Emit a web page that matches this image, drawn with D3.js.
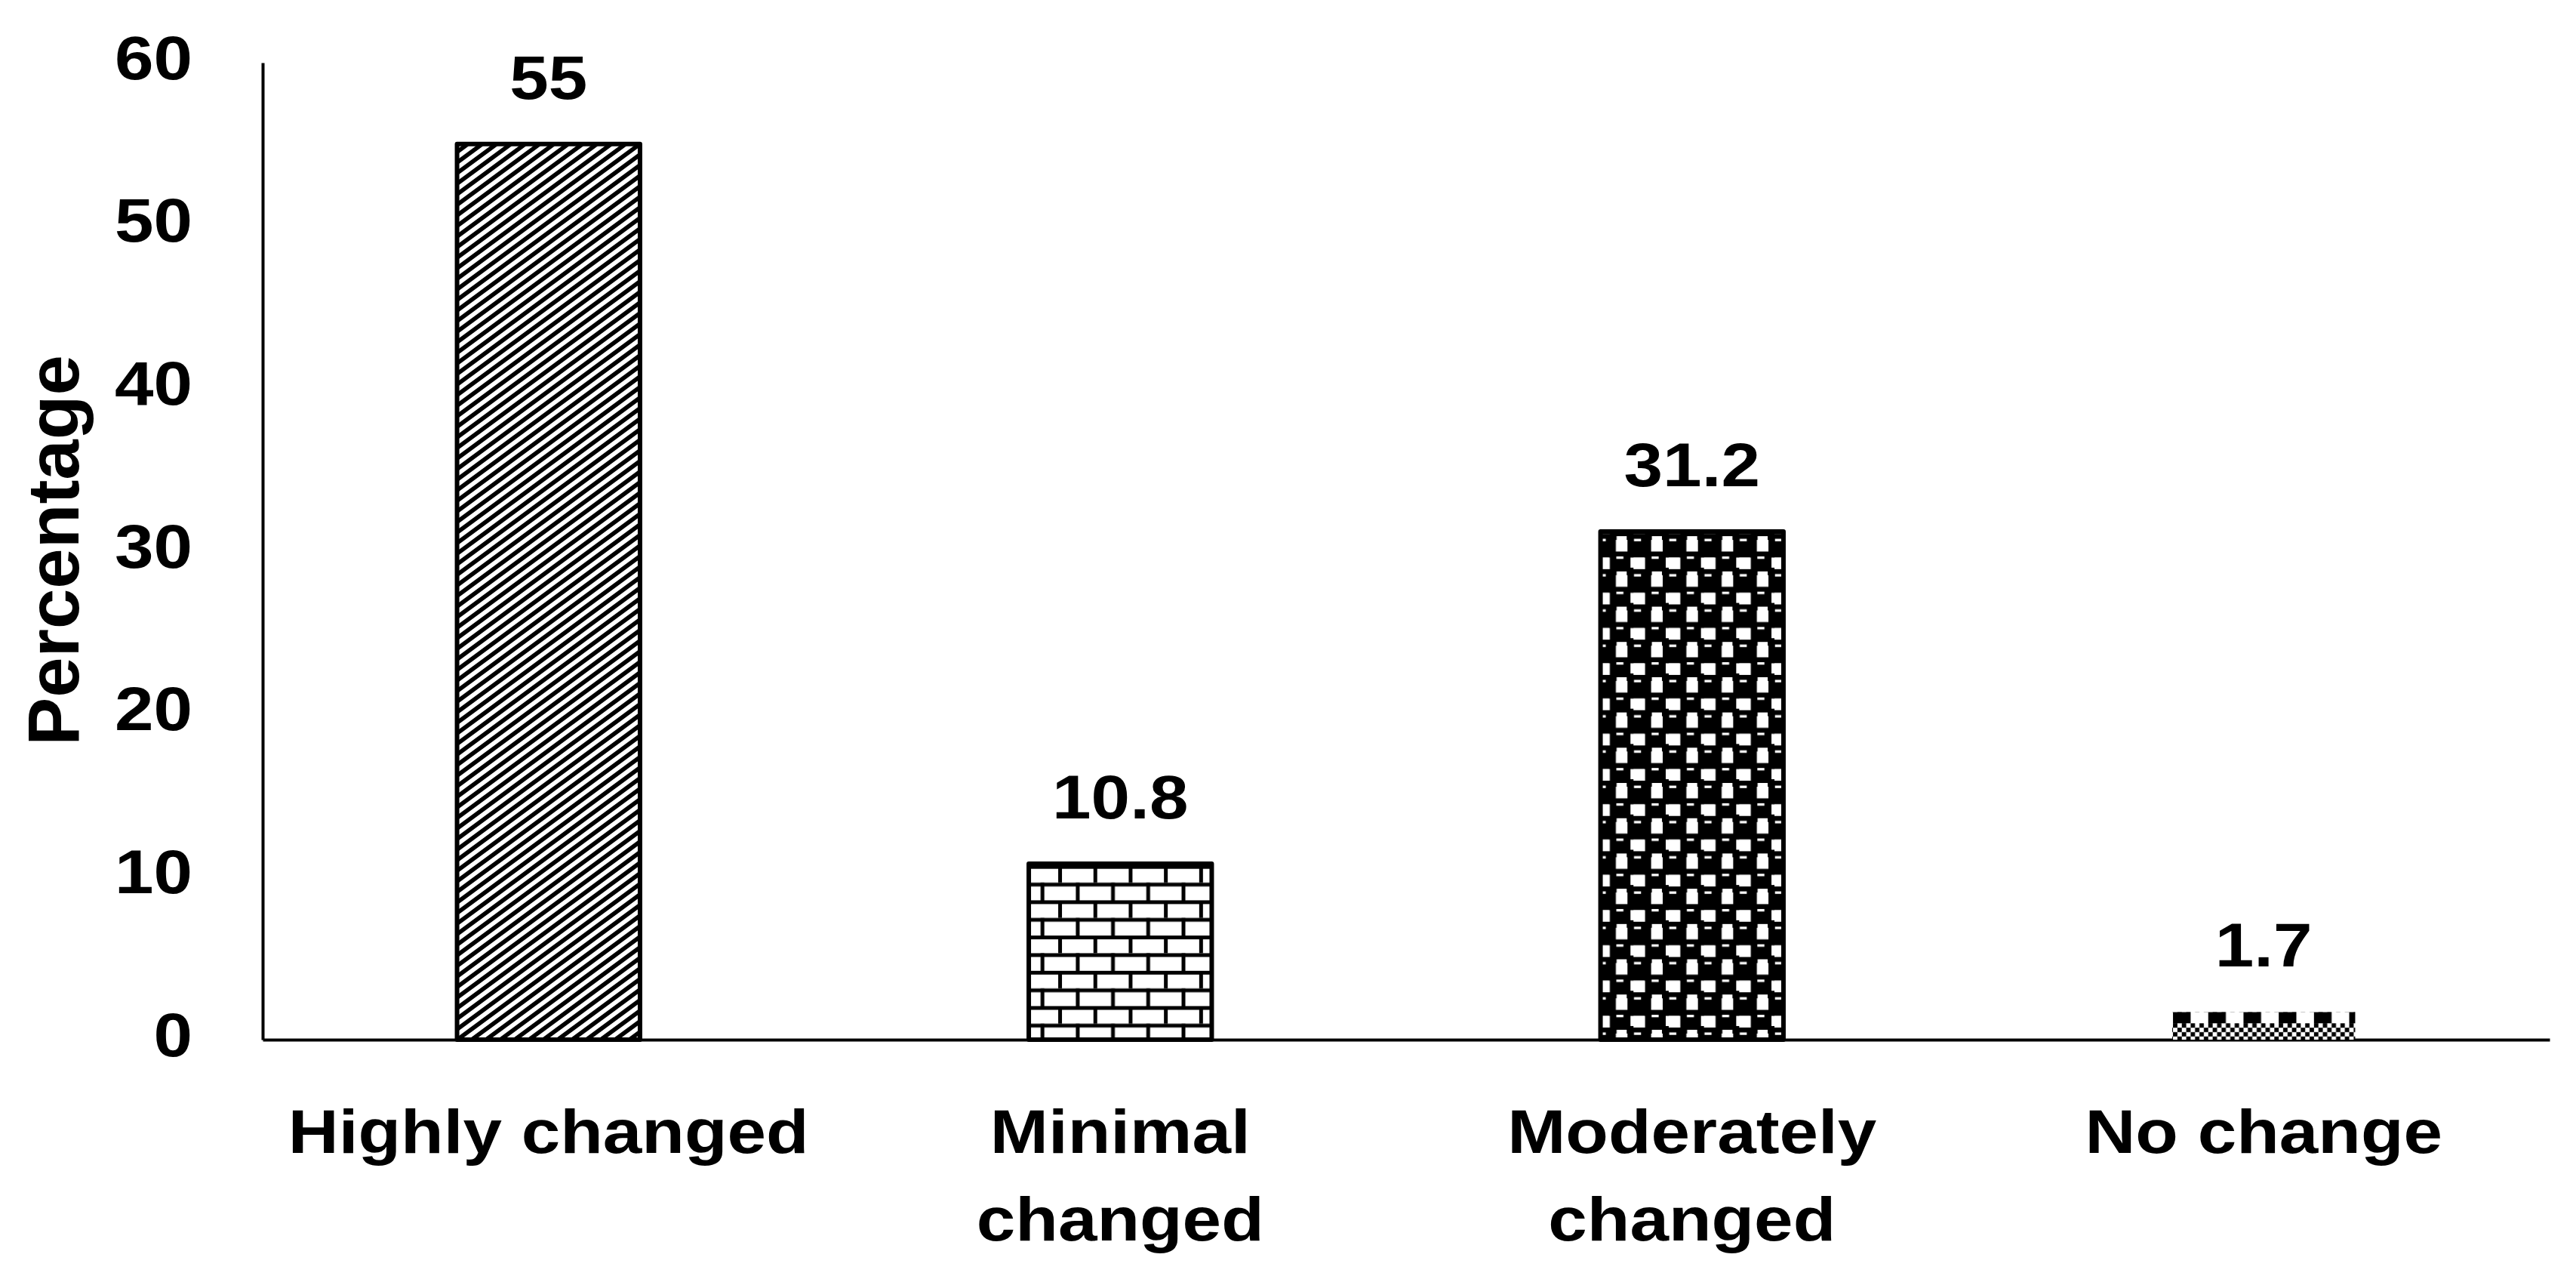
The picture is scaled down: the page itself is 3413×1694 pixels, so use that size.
<!DOCTYPE html>
<html><head>
<meta charset="utf-8">
<script src="https://cdnjs.cloudflare.com/ajax/libs/d3/7.8.5/d3.min.js"></script>
<style>
  body { margin: 0; background: #fff; }
  text { font-family: "Liberation Sans", Arial, sans-serif; font-weight: bold; fill: #000; }
</style>
</head>
<body>
<svg id="chart" width="3413" height="1694"></svg>
<script>
  // data
  const categories = ["Highly changed", "Minimal changed", "Moderately changed", "No change"];
  const values = [55, 10.8, 31.2, 1.7];
  const valueLabels = ["55", "10.8", "31.2", "1.7"];
  const patterns = ["diag", "brick", "sphere", "check"];
  const yTicks = [0, 10, 20, 30, 40, 50, 60];
  const yTitle = "Percentage";

  const svg = d3.select("svg#chart");
  const margins = {"top": 83, "right": 35, "bottom": 317, "left": 348};
  const width = +svg.attr("width");
  const height = +svg.attr("height");
  const fontSize = 82;
  const stretch = 1.13;   // the picture's text is a bit wider than plain Arial

  const x = d3.scaleBand().domain(categories)
      .range([margins.left, width - margins.right])
      .paddingInner(0.68).paddingOuter(0.34);
  const y = d3.scaleLinear().domain([0, 60]).range([height - margins.bottom, margins.top]);

  const defs = svg.append("defs");

  // 1. wide upward diagonal
  const dw = 19, dh = 14;
  const pDiag = defs.append("pattern").attr("id", "diag")
      .attr("patternUnits", "userSpaceOnUse").attr("width", dw).attr("height", dh);
  pDiag.append("rect").attr("width", dw).attr("height", dh).attr("fill", "#fff");
  pDiag.append("path").attr("fill", "#000")
      .attr("d", `M0,${dh} L${dw},0 L${dw},${dh/2} L${dw/2},${dh} Z M0,0 L0,${dh/2} L${dw/2},0 Z`);

  // 2. brick
  const bw = 46.7, bh = 46.7, mortar = 5;
  const b2 = categories[1];
  const pBrick = defs.append("pattern").attr("id", "brick")
      .attr("patternUnits", "userSpaceOnUse").attr("width", bw).attr("height", bh)
      .attr("x", x(b2) + 39).attr("y", y(values[1]) + 25 - bh / 2);
  pBrick.append("rect").attr("width", bw).attr("height", bh).attr("fill", "#fff");
  pBrick.append("rect").attr("y", 0).attr("width", bw).attr("height", mortar).attr("fill", "#000");
  pBrick.append("rect").attr("y", bh / 2).attr("width", bw).attr("height", mortar).attr("fill", "#000");
  pBrick.append("rect").attr("x", 0).attr("width", mortar).attr("height", bh / 2).attr("fill", "#000");
  pBrick.append("rect").attr("x", bw / 2).attr("y", bh / 2).attr("width", mortar).attr("height", bh / 2).attr("fill", "#000");

  // 3. sphere
  const sw = 46.7, c = sw / 2;
  const b3 = categories[2];
  const pSphere = defs.append("pattern").attr("id", "sphere")
      .attr("patternUnits", "userSpaceOnUse").attr("width", sw).attr("height", sw)
      .attr("x", x(b3) - 7).attr("y", y(values[2]) + 6);
  pSphere.append("rect").attr("width", sw).attr("height", sw).attr("fill", "#fff");
  [[0, 0], [c, c], [sw, 0], [0, sw], [sw, sw]].forEach(([px, py]) => {
    pSphere.append("rect").attr("x", px - 5).attr("y", py - 5).attr("width", c + 10).attr("height", c + 10)
        .attr("rx", 5).attr("fill", "#000");
  });
  [[0, 0], [c, c]].forEach(([px, py]) => {
    pSphere.append("rect").attr("x", px + 0.2 * c).attr("y", py + 0.15 * c)
        .attr("width", 0.4 * c).attr("height", 0.14 * c).attr("fill", "#fff");
  });
  [[c, 0], [0, c]].forEach(([px, py]) => {
    pSphere.append("rect").attr("x", px + 4).attr("y", py + 5).attr("width", c - 8).attr("height", c - 8)
        .attr("fill", "#fff");
  });

  // 4. small bar: blocks over a fine checker
  const b4 = categories[3];
  const cell = sw / 8;
  const pCheck = defs.append("pattern").attr("id", "check")
      .attr("patternUnits", "userSpaceOnUse").attr("width", sw).attr("height", sw)
      .attr("x", x(b4) + 1).attr("y", y(values[3]));
  pCheck.append("rect").attr("width", sw).attr("height", sw).attr("fill", "#fff");
  pCheck.append("rect").attr("width", c).attr("height", 15).attr("fill", "#000");
  for (let i = 0; i < 8; i++) {
    for (let j = 0; j < 6; j++) {
      if ((i + j) % 2 == 0) {
        pCheck.append("rect").attr("x", i * cell).attr("y", 15 + j * cell)
            .attr("width", cell).attr("height", cell).attr("fill", "#000");
      }
    }
  }

  // axes
  const leftAxis = d3.axisLeft(y).tickValues(yTicks).tickSize(0).tickPadding(93);
  const gy = svg.append("g").attr("transform", `translate(${margins.left},0)`).call(leftAxis);
  gy.select(".domain").attr("stroke", "#000").attr("stroke-width", 4);
  gy.selectAll(".tick text")
      .attr("x", null).attr("dy", null)
      .attr("font-size", fontSize)
      .attr("font-family", null)
      .attr("transform", `translate(-93,21) scale(${stretch},1)`);

  const bottomAxis = d3.axisBottom(x).tickSize(0).tickFormat("");
  const gx = svg.append("g").attr("transform", `translate(0,${y(0)})`).call(bottomAxis);
  gx.select(".domain").attr("stroke", "#000").attr("stroke-width", 4);

  // bars
  svg.selectAll("rect.bar").data(categories).join("rect")
      .attr("class", "bar")
      .attr("x", d => x(d))
      .attr("width", x.bandwidth())
      .attr("y", (d, i) => y(values[i]))
      .attr("height", (d, i) => y(0) - y(values[i]))
      .attr("fill", (d, i) => `url(#${patterns[i]})`)
      .attr("stroke", (d, i) => i == 3 ? "none" : "#000")
      .attr("stroke-width", 6)
      .attr("stroke-linejoin", "round");

  // value labels
  svg.selectAll("text.value").data(categories).join("text")
      .attr("class", "value")
      .attr("text-anchor", "middle")
      .attr("font-size", fontSize)
      .attr("transform", (d, i) => `translate(${x(d) + x.bandwidth() / 2},${y(values[i]) - 60}) scale(${stretch},1)`)
      .text((d, i) => valueLabels[i]);

  // category labels, wrapped like the original
  const maxLine = 700;
  categories.forEach(cat => {
    const t = svg.append("text")
        .attr("text-anchor", "middle")
        .attr("font-size", fontSize)
        .attr("transform", `translate(${x(cat) + x.bandwidth() / 2},${y(0) + 150}) scale(${stretch},1)`);
    const words = cat.split(" ");
    let line = [];
    let lineNo = 0;
    let tspan = t.append("tspan").attr("x", 0).attr("y", 0);
    words.forEach(w => {
      line.push(w);
      tspan.text(line.join(" "));
      if (tspan.node().getComputedTextLength() * stretch > maxLine && line.length > 1) {
        line.pop();
        tspan.text(line.join(" "));
        line = [w];
        lineNo++;
        tspan = t.append("tspan").attr("x", 0).attr("y", lineNo * 116).text(w);
      }
    });
  });

  // y title
  svg.append("text")
      .attr("text-anchor", "middle")
      .attr("font-size", 96)
      .attr("transform", `translate(104,729) rotate(-90)`)
      .text(yTitle);
</script>
</body>
</html>
